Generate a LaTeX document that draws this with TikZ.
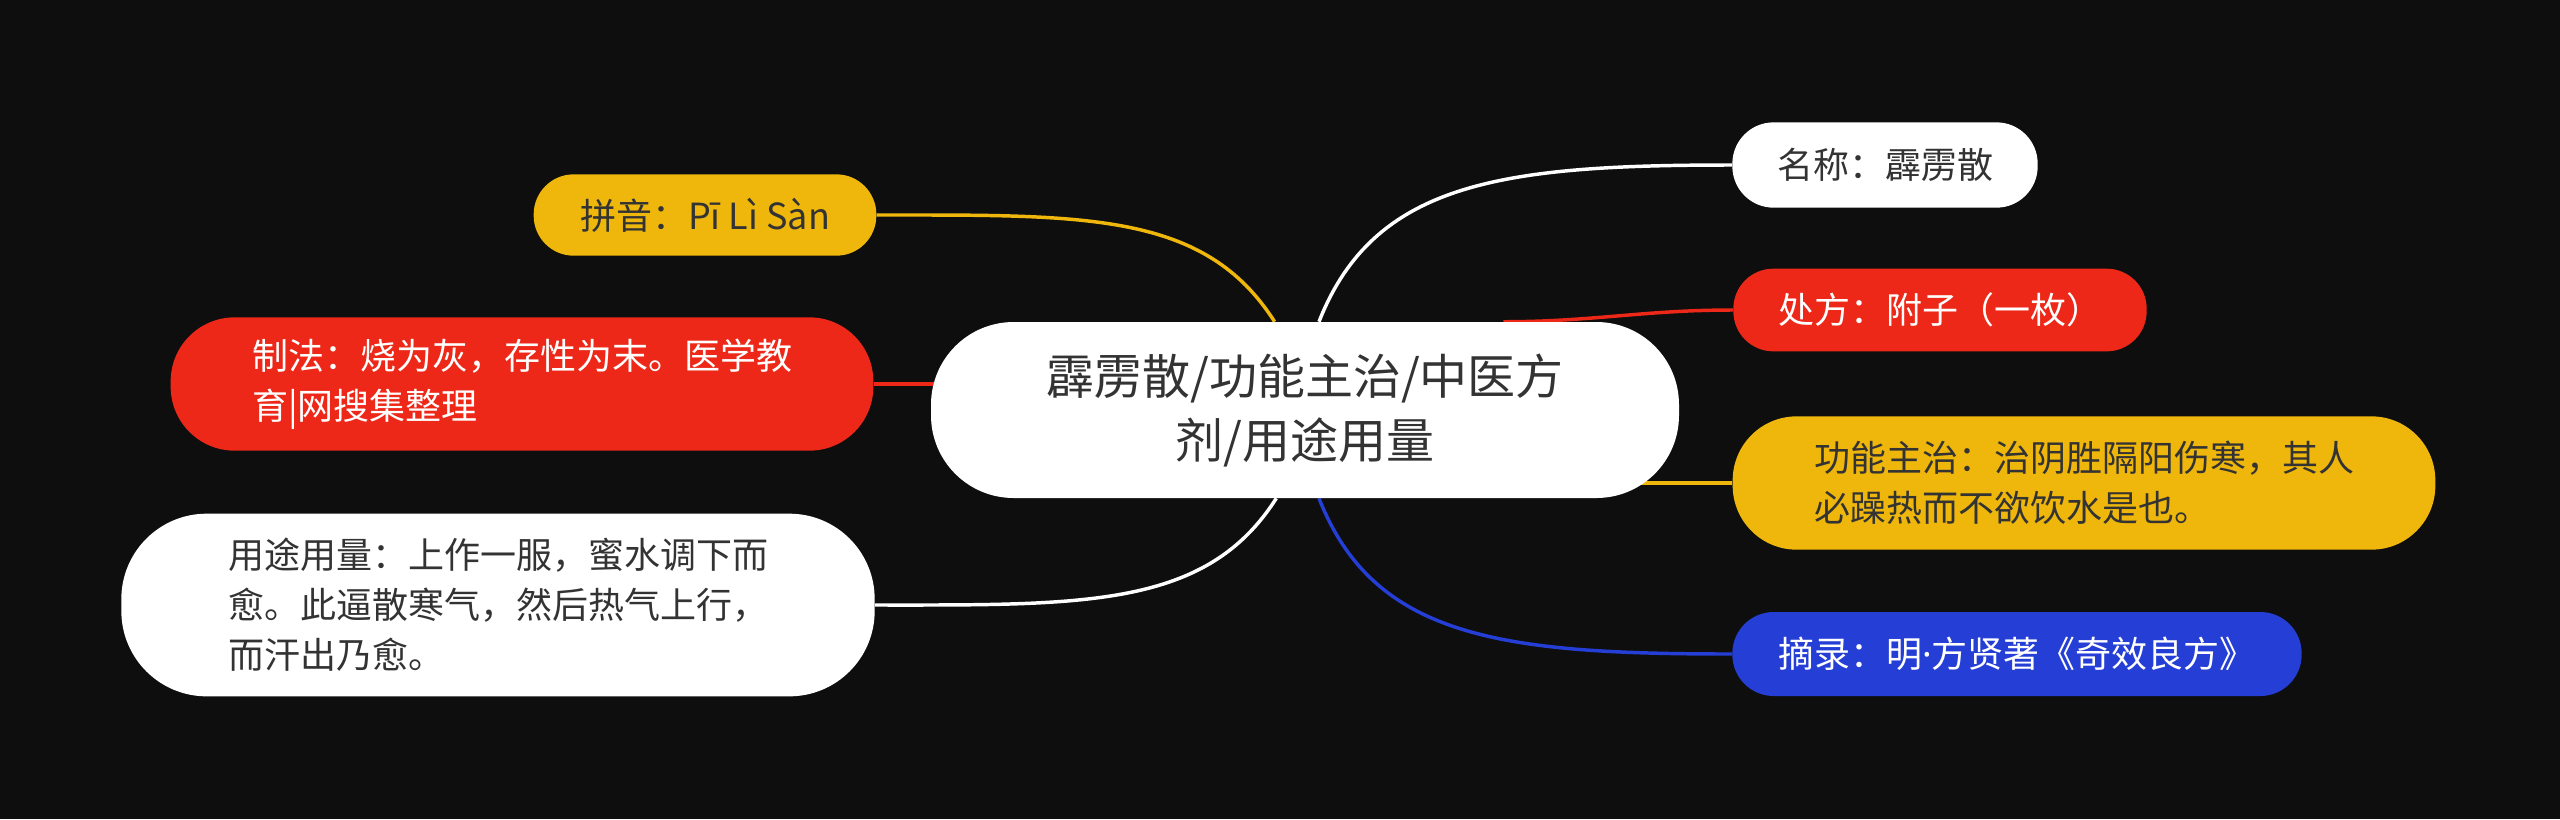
\documentclass[tikz,border=0pt]{standalone}
\usepackage{fontspec}
\setmainfont{Noto Sans CJK SC}
\newfontfamily\latinfont{Noto Sans}
\definecolor{bgblack}{RGB}{14,14,14}
\definecolor{mmyellow}{RGB}{239,183,12}
\definecolor{mmred}{RGB}{237,40,24}
\definecolor{mmblue}{RGB}{37,62,214}
\definecolor{mmtext}{RGB}{51,51,51}
\pgfdeclarelayer{bg}
\pgfdeclarelayer{links}
\pgfsetlayers{bg,links,main}

\begin{document}
\begin{tikzpicture}[x=0.75pt,y=0.75pt,yscale=-1,xscale=1,
	leafbox/.style={rectangle,inner sep=0pt,align=left,font=\fontsize{27pt}{37.5pt}\selectfont},
	hubbox/.style={rectangle,inner sep=0pt,align=center,fill=white,text=mmtext,rounded corners=62pt,font=\fontsize{36pt}{48pt}\selectfont},
	link/.style={line width=2.6pt}]
	\useasboundingbox (0,0) rectangle (2560,819);
	\begin{pgfonlayer}{bg}
		\fill[bgblack] (0,0) rectangle (2560,819);
	\end{pgfonlayer}
	
	%Shape: Centre
	\node[hubbox, minimum width=561pt, minimum height=132pt] (hub) at (1305,410) {霹雳散/功能主治/中医方\\剂/用途用量};
	
	%Shape: Right side
	\node[leafbox, fill=white, text=mmtext, rounded corners=31pt, minimum width=229pt, minimum height=64pt] (mingcheng) at (1885,165) {名称：霹雳散};
	\node[leafbox, fill=mmred, text=white, rounded corners=30pt, minimum width=310pt, minimum height=62pt] (chufang) at (1940,310) {处方：附子（一枚）};
	\node[leafbox, fill=mmyellow, text=mmtext, rounded corners=48pt, minimum width=527pt, minimum height=100pt] (gongneng) at (2084,483) {功能主治：治阴胜隔阳伤寒，其人\\必躁热而不欲饮水是也。};
	\node[leafbox, fill=mmblue, text=white, rounded corners=31pt, minimum width=427pt, minimum height=63pt] (zhailu) at (2017,654) {摘录：明{\latinfont ·}方贤著《奇效良方》};
	
	%Shape: Left side
	\node[leafbox, fill=mmyellow, text=mmtext, rounded corners=30pt, minimum width=257pt, minimum height=61pt] (pinyin) at (705,215) {拼音：Pī Lì Sàn};
	\node[leafbox, fill=mmred, text=white, rounded corners=48pt, minimum width=527pt, minimum height=100pt] (zhifa) at (522,384) {制法：烧为灰，存性为末。医学教\\育|网搜集整理};
	\node[leafbox, fill=white, text=mmtext, rounded corners=64pt, minimum width=565pt, minimum height=137pt] (yongtu) at (498,605) {用途用量：上作一服，蜜水调下而\\愈。此逼散寒气，然后热气上行，\\而汗出乃愈。};
	
	%Straight Lines / curves
	\begin{pgfonlayer}{links}
		\draw[link, white] (hub.81) .. controls +(55,-140) and +(-230,0) .. (mingcheng.west);
		\draw[link, mmred] (hub.24) to[out=0,in=180] (chufang.west);
		\draw[link, mmyellow] (gongneng.west) -- (gongneng.west -| hub.center);
		\draw[link, mmblue] (hub.279) .. controls +(55,140) and +(-230,0) .. (zhailu.west);
		\draw[link, mmyellow] (pinyin.east) .. controls +(210,0) and +(-70,-110) .. (hub.109);
		\draw[link, mmred] (zhifa.east) -- (zhifa.east -| hub.center);
		\draw[link, white] (yongtu.east) .. controls +(210,0) and +(-70,110) .. (hub.252);
	\end{pgfonlayer}
\end{tikzpicture}
\end{document}
